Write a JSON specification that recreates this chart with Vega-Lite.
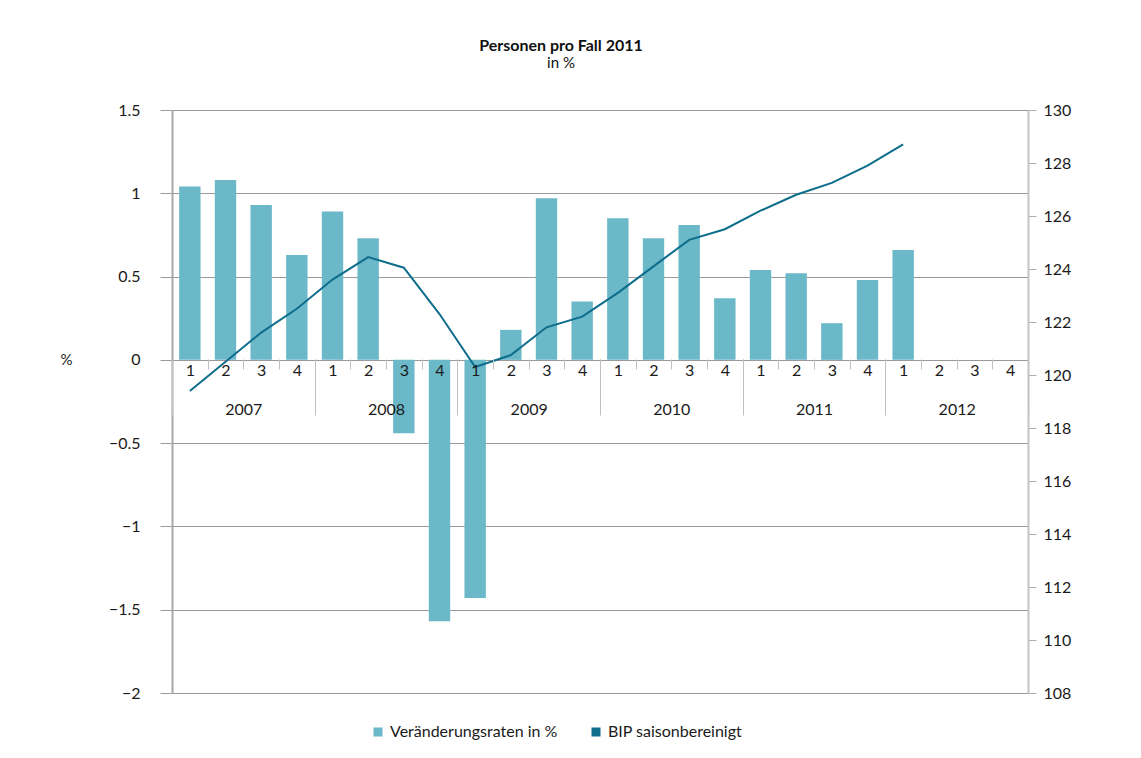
{
  "$schema": "https://vega.github.io/schema/vega-lite/v6.json",
  "width": 856,
  "height": 583,
  "autosize": {"type": "none"},
  "padding": {"left": 172, "top": 110, "right": 113, "bottom": 65},
  "background": "white",
  "title": {
    "text": "Personen pro Fall 2011",
    "subtitle": "in %",
    "anchor": "middle",
    "dx": -39,
    "offset": 31,
    "font": "Lato",
    "fontSize": 16,
    "fontWeight": "bold",
    "color": "#111111",
    "subtitleFont": "Lato",
    "subtitleFontSize": 15,
    "subtitleColor": "#111111",
    "subtitlePadding": 2
  },
  "config": {
    "view": {"stroke": null},
    "font": "Lato",
    "axis": {"labelFont": "Lato", "labelFontSize": 16, "labelColor": "#1a1a1a", "titleFont": "Lato"}
  },
  "data": {
    "values": [
      {"key": "2007-1", "year": "2007", "q": "1", "pct": 1.04, "bip": 119.4},
      {"key": "2007-2", "year": "2007", "q": "2", "pct": 1.08, "bip": 120.5},
      {"key": "2007-3", "year": "2007", "q": "3", "pct": 0.93, "bip": 121.6},
      {"key": "2007-4", "year": "2007", "q": "4", "pct": 0.63, "bip": 122.5},
      {"key": "2008-1", "year": "2008", "q": "1", "pct": 0.89, "bip": 123.6},
      {"key": "2008-2", "year": "2008", "q": "2", "pct": 0.73, "bip": 124.45},
      {"key": "2008-3", "year": "2008", "q": "3", "pct": -0.44, "bip": 124.05},
      {"key": "2008-4", "year": "2008", "q": "4", "pct": -1.57, "bip": 122.3},
      {"key": "2009-1", "year": "2009", "q": "1", "pct": -1.43, "bip": 120.3},
      {"key": "2009-2", "year": "2009", "q": "2", "pct": 0.18, "bip": 120.75},
      {"key": "2009-3", "year": "2009", "q": "3", "pct": 0.97, "bip": 121.8},
      {"key": "2009-4", "year": "2009", "q": "4", "pct": 0.35, "bip": 122.2},
      {"key": "2010-1", "year": "2010", "q": "1", "pct": 0.85, "bip": 123.1},
      {"key": "2010-2", "year": "2010", "q": "2", "pct": 0.73, "bip": 124.1},
      {"key": "2010-3", "year": "2010", "q": "3", "pct": 0.81, "bip": 125.1},
      {"key": "2010-4", "year": "2010", "q": "4", "pct": 0.37, "bip": 125.5},
      {"key": "2011-1", "year": "2011", "q": "1", "pct": 0.54, "bip": 126.2},
      {"key": "2011-2", "year": "2011", "q": "2", "pct": 0.52, "bip": 126.8},
      {"key": "2011-3", "year": "2011", "q": "3", "pct": 0.22, "bip": 127.25},
      {"key": "2011-4", "year": "2011", "q": "4", "pct": 0.48, "bip": 127.9},
      {"key": "2012-1", "year": "2012", "q": "1", "pct": 0.66, "bip": 128.7},
      {"key": "2012-2", "year": "2012", "q": "2", "pct": null, "bip": null},
      {"key": "2012-3", "year": "2012", "q": "3", "pct": null, "bip": null},
      {"key": "2012-4", "year": "2012", "q": "4", "pct": null, "bip": null}
    ]
  },
  "layer": [
    {
      "mark": {"type": "bar"},
      "encoding": {
        "x": {
          "field": "key",
          "type": "ordinal",
          "scale": {
            "domain": ["2007-1","2007-2","2007-3","2007-4","2008-1","2008-2","2008-3","2008-4","2009-1","2009-2","2009-3","2009-4","2010-1","2010-2","2010-3","2010-4","2011-1","2011-2","2011-3","2011-4","2012-1","2012-2","2012-3","2012-4"],
            "paddingInner": 0.4,
            "paddingOuter": 0.2
          },
          "axis": null
        },
        "y": {
          "field": "pct",
          "type": "quantitative",
          "scale": {"domain": [-2, 1.5], "nice": false, "zero": false},
          "axis": {
            "orient": "left",
            "values": [-2, -1.5, -1, -0.5, 0, 0.5, 1, 1.5],
            "format": "~g",
            "grid": true,
            "gridColor": "#9a9a9a",
            "gridWidth": 1,
            "domainColor": "#a8a8a8",
            "domainWidth": 2,
            "tickColor": "#9a9a9a",
            "tickSize": 12,
            "labelPadding": 20,
            "title": "%",
            "titleAngle": 0,
            "titleX": -106,
            "titleY": 249,
            "titleAlign": "center",
            "titleBaseline": "middle",
            "titleFontWeight": "normal",
            "titleFontSize": 15,
            "titleColor": "#1a1a1a"
          }
        },
        "color": {
          "datum": "Veränderungsraten in %",
          "type": "nominal",
          "scale": {"domain": ["Veränderungsraten in %", "BIP saisonbereinigt"], "range": ["#6bb8c8", "#0d6d8b"]},
          "legend": {
            "orient": "none",
            "legendX": 198,
            "legendY": 614,
            "direction": "horizontal",
            "title": null,
            "symbolType": "square",
            "symbolSize": 81,
            "symbolStrokeWidth": 0,
            "labelFont": "Lato",
            "labelFontSize": 16,
            "labelColor": "#1a1a1a",
            "labelLimit": 0,
            "labelOffset": 4,
            "columnPadding": 30,
            "padding": 0,
            "encode": {
              "symbols": {"update": {"fill": {"scale": "color", "field": "value"}, "opacity": {"value": 1}}}
            }
          }
        }
      }
    },
    {
      "mark": {"type": "line", "strokeWidth": 2},
      "encoding": {
        "x": {
          "field": "key",
          "type": "ordinal",
          "scale": {
            "type": "band",
            "domain": ["2007-1","2007-2","2007-3","2007-4","2008-1","2008-2","2008-3","2008-4","2009-1","2009-2","2009-3","2009-4","2010-1","2010-2","2010-3","2010-4","2011-1","2011-2","2011-3","2011-4","2012-1","2012-2","2012-3","2012-4"],
            "paddingInner": 0,
            "paddingOuter": 0
          },
          "axis": {
            "orient": "bottom",
            "offset": -334,
            "title": null,
            "domain": false,
            "grid": false,
            "tickBand": "extent",
            "tickSize": 10,
            "tickColor": "#c0c0c0",
            "tickWidth": 1,
            "labelPadding": -7,
            "labelAngle": 0,
            "labelBaseline": "top",
            "labelExpr": "isString(datum.value) ? slice(datum.value, 5) : ''",
            "zindex": 1
          }
        },
        "y": {
          "field": "bip",
          "type": "quantitative",
          "scale": {"domain": [108, 130], "nice": false, "zero": false},
          "axis": {
            "orient": "right",
            "values": [108, 110, 112, 114, 116, 118, 120, 122, 124, 126, 128, 130],
            "grid": false,
            "domainColor": "#c4c4c4",
            "domainWidth": 2,
            "tickColor": "#b0b0b0",
            "tickSize": 8,
            "labelPadding": 7,
            "title": null
          }
        },
        "color": {"datum": "BIP saisonbereinigt", "type": "nominal"}
      }
    },
    {
      "mark": {"type": "tick", "opacity": 0},
      "encoding": {
        "x": {
          "field": "year",
          "type": "ordinal",
          "scale": {"domain": ["2007", "2008", "2009", "2010", "2011", "2012"], "paddingInner": 0, "paddingOuter": 0},
          "axis": {
            "orient": "bottom",
            "offset": -334,
            "title": null,
            "domain": false,
            "grid": false,
            "tickBand": "extent",
            "tickSize": 56,
            "tickColor": "#c0c0c0",
            "tickWidth": 1,
            "labelPadding": -14,
            "labelAngle": 0,
            "labelBaseline": "top",
            "zindex": 1
          }
        }
      }
    }
  ],
  "resolve": {"scale": {"x": "independent", "y": "independent"}}
}
